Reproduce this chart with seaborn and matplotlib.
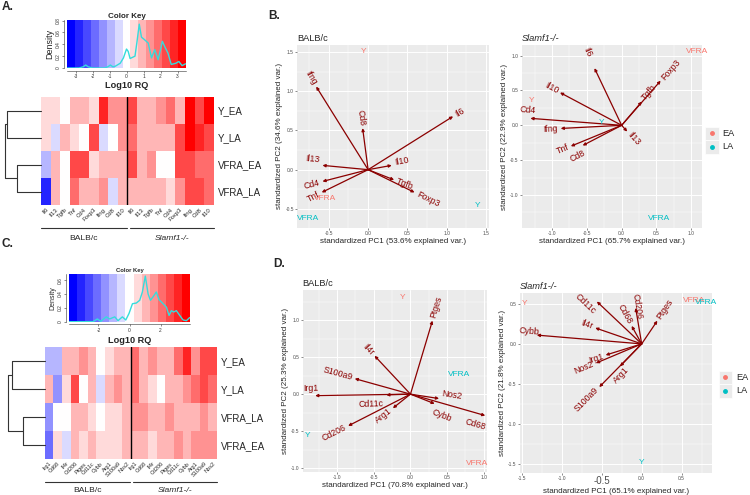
import numpy as np
import pandas as pd
import matplotlib
matplotlib.use('Agg')
import matplotlib.pyplot as plt
from matplotlib.colors import LinearSegmentedColormap, ListedColormap, BoundaryNorm
from matplotlib.ticker import MultipleLocator
from matplotlib.patches import Rectangle
import seaborn as sns

sns.set_theme(style='white')
plt.rcParams['font.family'] = ['Liberation Sans', 'DejaVu Sans']

# ---------------- heatmap data (Log10 RQ) ----------------
genes_a = ['Il6', 'Il13', 'Tgfb', 'Tnf', 'Cd4', 'Foxp3', 'Ifng', 'Cd8', 'Il10']
rows_a = ['Y_EA', 'Y_LA', 'VFRA_EA', 'VFRA_LA']
vals_a = [
    [0.4, 0.4, 0.0, 0.9, 0.9, 0.4, 2.8, 1.3, 1.3, 2.3, 0.9, 0.9, 1.3, 1.8, 0.9, 3.3, 2.3, 3.3],
    [0.4, -0.5, 0.9, 0.4, 0.0, 2.3, -0.5, 0.0, 1.3, 1.8, 0.9, 0.9, 0.9, 0.9, 2.3, 3.3, 2.8, 2.3],
    [-1.0, 0.9, 0.0, 2.3, 2.3, 0.4, 0.9, 0.9, 0.9, 2.3, 0.9, 1.3, 0.0, 0.0, 2.3, 2.3, 1.8, 1.8],
    [-2.8, 0.9, 0.0, 1.8, 0.9, 0.9, 1.3, -0.5, 0.9, 0.9, 0.9, 0.9, 0.9, 0.4, 1.3, 2.3, 2.3, 1.8],
]
dend_a = [0.93, 0.67, 1.0]   # Y node, VFRA node, root

genes_c = ['Irg1', 'Cd68', 'Il4r', 'Cd206', 'Ptges', 'Cd11c', 'Cybb', 'Arg1', 'S100a9', 'Nos2']
rows_c = ['Y_EA', 'Y_LA', 'VFRA_LA', 'VFRA_EA']
vals_c = [
    [-1.0, -1.0, 0.9, 0.9, 1.8, 0.9, 0.0, 0.4, 1.3, 0.9, 2.3, 1.3, 1.8, 0.9, 0.9, 2.3, 3.3, 1.8, 2.8, 2.8],
    [0.9, -1.5, 0.4, 2.8, 0.0, 1.3, -0.5, 1.3, 1.8, 0.9, 2.3, 0.9, 0.4, 0.0, 0.9, 0.9, 1.8, 2.3, 2.8, 2.3],
    [-1.5, 0.0, 0.0, 0.9, 1.3, 0.4, 0.0, 0.4, 0.4, 1.3, 1.8, 1.8, 0.9, 0.9, 1.8, 0.9, 0.9, 1.3, 1.8, 1.3],
    [-2.0, 0.4, -0.5, 0.9, 0.4, 0.9, 0.4, 0.4, 0.4, 1.3, 0.9, 0.9, 0.4, 0.9, 0.9, 1.8, 1.3, 1.8, 1.8, 1.8],
]
dend_c = [0.91, 0.59, 1.0]

# colour key density curves
dens_a_x = [-3.47, -2.8, -2.55, -2.4, -2.25, -2.0, -1.3, -1.1, -0.95, -0.8, -0.66, -0.37, -0.18, 0.0,
            0.1, 0.21, 0.5, 0.62, 0.75, 0.88, 1.05, 1.28, 1.47, 1.66, 1.86, 2.11, 2.25, 2.44, 2.63,
            2.9, 3.08, 3.27, 3.47]
dens_a_y = [0.0, 0.0, 0.02, 0.05, 0.02, 0.0, 0.0, 0.02, 0.05, 0.02, 0.03, 0.08, 0.17, 0.32,
            0.28, 0.16, 0.2, 0.45, 0.74, 0.52, 0.48, 0.42, 0.17, 0.31, 0.14, 0.45, 0.36, 0.25, 0.06,
            0.08, 0.11, 0.04, 0.07]
dens_c_x = [-3.9, -2.35, -2.07, -1.86, -1.5, -1.28, -0.95, -0.74, -0.46, -0.24, -0.03, 0.19, 0.44,
            0.66, 0.83, 1.02, 1.2, 1.35, 1.52, 1.73, 1.9, 2.12, 2.38, 2.55, 2.7, 2.85, 3.02, 3.24,
            3.45, 3.67, 3.88]
dens_c_y = [0.0, 0.0, 0.04, 0.005, 0.07, 0.04, 0.07, 0.015, 0.07, 0.025, 0.12, 0.26, 0.27,
            0.31, 0.43, 0.66, 0.4, 0.31, 0.36, 0.43, 0.32, 0.27, 0.21, 0.09, 0.16, 0.14, 0.16, 0.09,
            0.025, 0.015, 0.06]

# ---------------- biplot data ----------------
b1_vars = ['Ifng', 'Cd8', 'Il6', 'Il13', 'Il10', 'Cd4', 'Tnf', 'Tgfb', 'Foxp3']
b1_pc1 = [-0.66, -0.07, 1.08, -0.58, 0.30, -0.58, -0.59, 0.33, 0.59]
b1_pc2 = [1.06, 0.53, 0.68, 0.055, 0.055, -0.15, -0.29, -0.13, -0.29]
b1_obs = ['Y', 'VFRA', 'Y', 'VFRA']
b1_grp = ['EA', 'EA', 'LA', 'LA']
b1_ox = [-0.055, -0.55, 1.39, -0.76]
b1_oy = [1.51, -0.37, -0.455, -0.62]

b2_vars = ['Il6', 'Foxp3', 'Tgfb', 'Il10', 'Cd4', 'Ifng', 'Il13', 'Tnf', 'Cd8']
b2_pc1 = [-0.39, 0.56, 0.29, -0.885, -1.31, -0.875, 0.08, -0.73, -0.56]
b2_pc2 = [0.82, 0.64, 0.34, 0.47, 0.10, -0.045, -0.09, -0.30, -0.29]
b2_obs = ['VFRA', 'Y', 'Y', 'VFRA']
b2_grp = ['EA', 'EA', 'LA', 'LA']
b2_ox = [1.08, -1.29, -0.29, 0.54]
b2_oy = [1.06, 0.35, 0.04, -1.33]

d1_vars = ['Ptges', 'Il4r', 'S100a9', 'Irg1', 'Cd11c', 'Nos2', 'Cybb', 'Cd68', 'Arg1', 'Cd206']
d1_pc1 = [0.30, -0.49, -0.76, -1.30, -0.33, 0.39, 0.33, 1.02, -0.24, -0.85]
d1_pc2 = [0.995, 0.52, 0.21, -0.02, -0.01, -0.06, -0.13, -0.29, -0.19, -0.43]
d1_obs = ['Y', 'VFRA', 'Y', 'VFRA']
d1_grp = ['EA', 'EA', 'LA', 'LA']
d1_ox = [-0.11, 0.91, -1.40, 0.67]
d1_oy = [1.31, -0.94, -0.56, 0.27]

d2_vars = ['Cd11c', 'Cd206', 'Cd68', 'Ptges', 'Il4r', 'Cybb', 'Irg1', 'Nos2', 'Arg1', 'S100a9']
d2_pc1 = [-0.56, -0.075, -0.125, 0.196, -0.58, -1.31, -0.45, -0.57, -0.27, -0.53]
d2_pc2 = [0.53, 0.45, 0.225, 0.29, 0.20, 0.11, -0.14, -0.24, -0.28, -0.54]
d2_obs = ['Y', 'VFRA', 'VFRA', 'Y']
d2_grp = ['EA', 'EA', 'LA', 'LA']
d2_ox = [-1.46, 0.65, 0.80, 0.0]
d2_oy = [0.51, 0.54, 0.52, -1.48]

grp_col = {'EA': '#F8766D', 'LA': '#00BFC4'}
# label nudges in points per panel (style only)
nudge_b1 = {'Il13': (0, 4), 'Il10': (0, 2)}
nudge_b2 = {'Il6': (-3, 7), 'Cd4': (6, 5), 'Cd8': (3, -4)}
nudge_d1 = {'Irg1': (4, 5), 'Cd11c': (0, -6), 'Cd68': (-16, -4), 'Cybb': (-4, -5), 'Nos2': (0, 4)}
nudge_d2 = {'Cd11c': (0, -9), 'Cd206': (3, -10), 'Cybb': (4, 2), 'Arg1': (7, 0)}

W, H = 750, 495
fig = plt.figure(figsize=(7.5, 4.95), dpi=100)


def box(x0, y0, x1, y1):
    return [x0 / W, 1 - y1 / H, (x1 - x0) / W, (y1 - y0) / H]


key_cmap = ListedColormap(
    LinearSegmentedColormap.from_list('bwr_key', ['blue', 'white', 'red'])(np.linspace(0, 1, 15)))


def color_key(ax, lim, dx, dy, top, xt, yt, title_size, dens_size, lab_pad):
    breaks = np.linspace(-lim, lim, 16)
    norm = BoundaryNorm(breaks, 15)
    mids = ((breaks[:-1] + breaks[1:]) / 2).reshape(1, -1)
    ax.pcolormesh(breaks, [0, top], mids, cmap=key_cmap, norm=norm)
    ax.plot(dx, dy, color='#35DCDC', lw=1.0)
    ax.set_xlim(-lim, lim)
    ax.set_ylim(0, top)
    for s in ['top', 'right']:
        ax.spines[s].set_visible(False)
    for s in ['left', 'bottom']:
        ax.spines[s].set_position(('outward', 2))
        ax.spines[s].set_linewidth(0.4)
        ax.spines[s].set_color('#333333')
    ax.set_xticks(xt)
    ax.set_xticklabels([str(v) for v in xt])
    ax.set_yticks(yt)
    ax.set_yticklabels([f'{v:g}' for v in yt], rotation=90, va='center')
    ax.tick_params(length=1.5, width=0.4, labelsize=3.5, pad=1, colors='#333333', bottom=True, left=True)
    ax.set_title('Color Key', fontsize=title_size, fontweight='bold', pad=1.5)
    ax.set_xlabel('Log10 RQ', fontsize=6.6, fontweight='bold', labelpad=lab_pad)
    ax.set_ylabel('Density', fontsize=dens_size, labelpad=1)


def heat(ax, vals, genes, rows, lim, lab_size):
    cols = genes + genes
    df = pd.DataFrame(vals, index=rows, columns=[f'{g}_{i}' for i, g in enumerate(cols)])
    norm = BoundaryNorm(np.linspace(-lim, lim, 16), 15)
    sns.heatmap(df, ax=ax, cmap=key_cmap, norm=norm, cbar=False, xticklabels=cols, yticklabels=rows)
    ax.axvline(len(genes), color='black', lw=1.0)
    ax.yaxis.tick_right()
    ax.set_yticklabels(rows, rotation=0, fontsize=7)
    ax.tick_params(axis='y', length=0, pad=3, right=False, left=False)
    ax.set_xticklabels(cols, rotation=45, ha='right', rotation_mode='anchor', fontsize=lab_size)
    ax.tick_params(axis='x', length=0, pad=1.5)
    ax.set_xlabel('')
    ax.set_ylabel('')


def dendro(ax, h):
    hy, hv, hr = h
    kw = dict(color='#333333', lw=0.8, clip_on=False)
    ax.plot([0, hy, hy, 0], [0.5, 0.5, 1.5, 1.5], **kw)
    ax.plot([0, hv, hv, 0], [2.5, 2.5, 3.5, 3.5], **kw)
    ax.plot([hy, hr, hr, hv], [1.0, 1.0, 3.0, 3.0], **kw)
    ax.set_xlim(1.0, 0)
    ax.set_ylim(4, 0)
    ax.axis('off')


def biplot(ax, names, pc1, pc2, obs, grp, ox, oy, xlim, ylim, xt, yt, xlab, ylab, title, italic, nudge):
    ax.set_facecolor('#EBEBEB')
    for s in ax.spines.values():
        s.set_visible(False)
    ax.set_xlim(xlim)
    ax.set_ylim(ylim)
    ax.set_xticks(xt)
    ax.set_yticks(yt)
    ax.set_xticklabels([f'{v:.1f}' for v in xt])
    ax.set_yticklabels([f'{v:.1f}' for v in yt])
    ax.xaxis.set_minor_locator(MultipleLocator(0.25))
    ax.yaxis.set_minor_locator(MultipleLocator(0.25))
    ax.grid(True, which='major', color='white', lw=0.7)
    ax.grid(True, which='minor', color='white', lw=0.35)
    ax.set_axisbelow(True)
    ax.tick_params(which='major', length=1.5, width=0.4, colors='#333333', labelcolor='#4D4D4D',
                   labelsize=3.5, pad=1, bottom=True, left=True)
    ax.tick_params(which='minor', length=0)
    for n, x, y in zip(names, pc1, pc2):
        ax.annotate('', xy=(x, y), xytext=(0, 0),
                    arrowprops=dict(arrowstyle='-|>', color='darkred', lw=0.9,
                                    mutation_scale=4, shrinkA=0, shrinkB=0))
        th = np.arctan2(y, x)
        rot = np.degrees(np.arctan(y / x))
        nx, ny = nudge.get(n, (0, 0))
        ax.annotate(n, xy=(x, y), xytext=(2 * np.cos(th) + nx, 2 * np.sin(th) + ny),
                    textcoords='offset points', rotation=rot, rotation_mode='anchor',
                    ha='left' if x > 0 else 'right', va='center', color='darkred', fontsize=6.3)
    for t, g, x, y in zip(obs, grp, ox, oy):
        ax.text(x, y, t, color=grp_col[g], ha='center', va='center', fontsize=6)
    ax.set_xlabel(xlab, fontsize=5.8, labelpad=1.5)
    ax.set_ylabel(ylab, fontsize=5.8, labelpad=1.5)
    ax.set_title(title, loc='left', fontsize=6.7, pad=3, fontstyle='italic' if italic else 'normal')


# ---------------- panel A / C ----------------
ax_ka = fig.add_axes(box(67, 20, 186, 68))
color_key(ax_ka, 3.5, dens_a_x, dens_a_y, 0.81, [-3, -2, -1, 0, 1, 2, 3], [0, 0.2, 0.4, 0.6, 0.8], 5.8, 6.5, 1)
ax_ha = fig.add_axes(box(41, 97, 213.7, 205))
heat(ax_ha, vals_a, genes_a, rows_a, 3.5, 4.3)
ax_da = fig.add_axes(box(4.7, 97, 41, 205))
dendro(ax_da, dend_a)

ax_kc = fig.add_axes(box(69, 274, 190, 321.7))
color_key(ax_kc, 3.9, dens_c_x, dens_c_y, 0.69, [-2, 0, 2], [0, 0.2, 0.4, 0.6], 4.2, 5, 2.5)
ax_hc = fig.add_axes(box(44.7, 347, 217, 459))
heat(ax_hc, vals_c, genes_c, rows_c, 3.9, 4.0)
ax_dc = fig.add_axes(box(8.3, 347, 44.7, 459))
dendro(ax_dc, dend_c)

# ---------------- panel B / D ----------------
ax_b1 = fig.add_axes(box(297.3, 45, 489.3, 227.7))
ax_b2 = fig.add_axes(box(521.7, 45.3, 702.3, 227.7))
ax_d1 = fig.add_axes(box(302.7, 290, 486.7, 471.7))
ax_d2 = fig.add_axes(box(520, 292.7, 711.7, 472.7))

biplot(ax_b1, b1_vars, b1_pc1, b1_pc2, b1_obs, b1_grp, b1_ox, b1_oy, (-0.90, 1.54), (-0.74, 1.59),
       [-0.5, 0, 0.5, 1.0, 1.5], [-0.5, 0, 0.5, 1.0, 1.5],
       'standardized PC1 (53.6% explained var.)', 'standardized PC2 (34.6% explained var.)',
       'BALB/c', False, nudge_b1)
biplot(ax_b2, b2_vars, b2_pc1, b2_pc2, b2_obs, b2_grp, b2_ox, b2_oy, (-1.435, 1.158), (-1.469, 1.148),
       [-1.0, -0.5, 0, 0.5, 1.0], [-1.0, -0.5, 0, 0.5, 1.0],
       'standardized PC1 (65.7% explained var.)', 'standardized PC2 (22.9% explained var.)',
       'Slamf1-/-', True, nudge_b2)
biplot(ax_d1, d1_vars, d1_pc1, d1_pc2, d1_obs, d1_grp, d1_ox, d1_oy, (-1.47, 1.04), (-1.05, 1.41),
       [-1.0, -0.5, 0, 0.5, 1.0], [-1.0, -0.5, 0, 0.5, 1.0],
       'standardized PC1 (70.8% explained var.)', 'standardized PC2 (25.3% explained var.)',
       'BALB/c', False, nudge_d1)
biplot(ax_d2, d2_vars, d2_pc1, d2_pc2, d2_obs, d2_grp, d2_ox, d2_oy, (-1.52, 0.875), (-1.61, 0.64),
       [-1.5, -1.0, -0.5, 0, 0.5], [-1.5, -1.0, -0.5, 0, 0.5],
       'standardized PC1 (65.1% explained var.)', 'standardized PC2 (21.8% explained var.)',
       'Slamf1-/-', True, nudge_d2)
ax_d2.get_xticklabels()[2].set_fontsize(7)

# ---------------- overlay: letters, brackets, legends ----------------
ov = fig.add_axes([0, 0, 1, 1])
ov.set_xlim(0, W)
ov.set_ylim(H, 0)
ov.axis('off')

for lab, x, y in [('A.', 2, 7.5), ('B.', 268, 16), ('C.', 1, 244), ('D.', 273, 264)]:
    ov.text(x, y, lab, fontsize=8.6, fontweight='bold', ha='left', va='center')

for (x0, x1, x2, x3, yl, yt) in [(41, 126.7, 129.5, 213.7, 227.5, 238), (44.7, 129.5, 132.5, 217, 482, 491)]:
    ov.plot([x0, x1], [yl, yl], color='#333333', lw=0.8)
    ov.plot([x2, x3], [yl, yl], color='#333333', lw=0.8)
    ov.text((x0 + x1) / 2, yt, 'BALB/c', fontsize=6.1, ha='center', va='center')
    ov.text((x2 + x3) / 2, yt, 'Slamf1-/-', fontsize=6.1, ha='center', va='center', fontstyle='italic')

for kx, ky, tx in [(705, 126.7, 722), (718.5, 370.5, 736.5)]:
    for i, g in enumerate(['EA', 'LA']):
        y0 = ky + i * 13.5
        ov.add_patch(Rectangle((kx, y0), 13.5, 13.5, facecolor='#EBEBEB', edgecolor='white', lw=0.5))
        ov.plot(kx + 6.75, y0 + 6.75, 'o', color=grp_col[g], ms=2.5)
        ov.text(tx, y0 + 6.75, g, fontsize=6.6, ha='left', va='center')

fig.savefig('out.png', dpi=100)
